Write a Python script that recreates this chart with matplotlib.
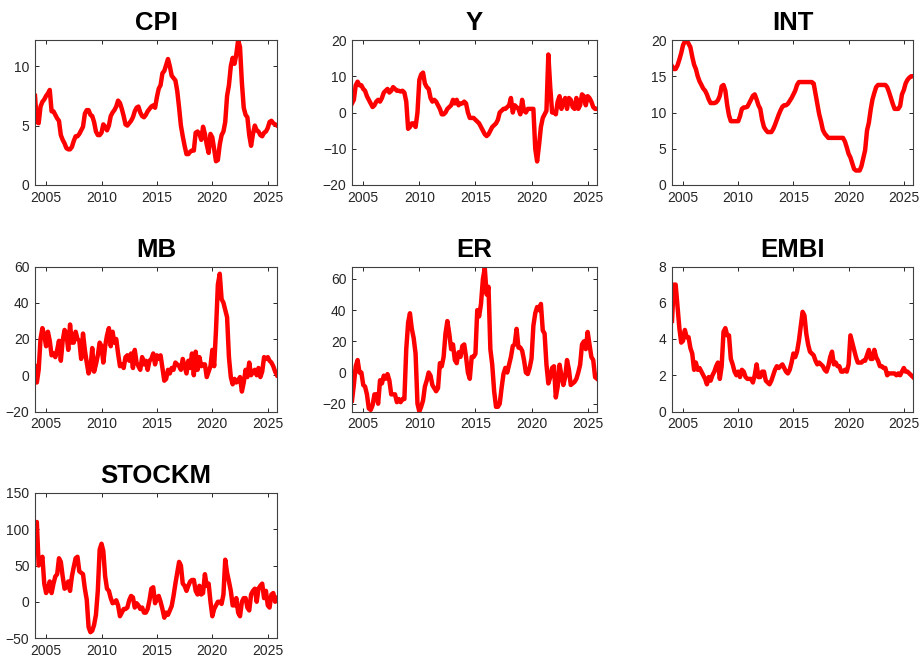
""" grid of macro series, one red line per panel """
import matplotlib
matplotlib.use("Agg")
import matplotlib.pyplot as plt
import matplotlib.dates as mdates
import pandas as pd

# bi-monthly observations, Jan 2004 .. Nov 2025 (one row per year)
dates = pd.date_range("2004-01-01", "2025-11-01", freq="2MS")

cpi = [7.5, 5.3, 5.2, 6.6, 7.0, 7.2,
       7.5, 7.7, 8.0, 6.2, 6.2, 5.9,
       5.6, 5.4, 4.2, 3.8, 3.5, 3.1,
       3.0, 3.0, 3.2, 3.7, 4.1, 4.1,
       4.3, 4.6, 4.9, 6.0, 6.3, 6.3,
       5.9, 5.8, 5.3, 4.5, 4.2, 4.2,
       4.4, 5.1, 4.9, 4.6, 5.0, 5.8,
       6.1, 6.3, 6.6, 7.1, 6.9, 6.4,
       5.8, 5.1, 5.0, 5.2, 5.4, 5.7,
       6.2, 6.5, 6.6, 6.1, 5.8, 5.7,
       5.9, 6.2, 6.4, 6.6, 6.7, 6.5,
       7.4, 8.1, 8.4, 9.4, 9.6, 10.1,
       10.6, 10.0, 9.2, 9.0, 8.8, 7.9,
       6.5, 5.0, 4.1, 3.3, 2.6, 2.6,
       2.8, 2.9, 2.9, 4.4, 4.5, 4.3,
       3.8, 4.9, 4.3, 3.4, 2.7, 4.3,
       4.0, 3.0, 2.0, 2.1, 3.4, 4.2,
       4.5, 5.3, 7.5, 8.4, 10.0, 10.7,
       10.2, 11.0, 12.2, 11.6, 8.6, 6.5,
       5.9, 5.7, 4.2, 3.3, 4.3, 5.0,
       4.6, 4.5, 4.2, 4.1, 4.4, 4.5,
       4.8, 5.3, 5.4, 5.2, 5.1, 5.0]

y = [2.5, 3.5, 7.5, 8.5, 7.5, 7.5,
     6.5, 6.0, 4.5, 3.5, 2.5, 1.5,
     2.0, 3.0, 3.5, 3.0, 4.0, 5.5,
     6.0, 6.5, 5.5, 6.0, 7.0, 6.5,
     6.0, 6.0, 5.8, 6.0, 5.5, 3.0,
     -4.5, -4.0, -3.0, -3.0, -4.0, 0.0,
     9.0, 10.5, 11.0, 8.0, 7.0, 6.5,
     4.0, 3.0, 3.5, 3.0, 2.0, 1.0,
     -0.5, -0.5, 0.0, 1.0, 1.5, 2.0,
     3.5, 2.5, 3.5, 2.0, 2.5, 2.5,
     3.0, 2.5, 0.0, -1.5, -1.5, -1.5,
     -2.0, -2.5, -3.0, -4.0, -5.0, -6.0,
     -6.5, -6.0, -5.0, -4.0, -3.5, -3.0,
     -2.0, 0.0, 0.5, 1.0, 1.0, 1.5,
     2.0, 4.0, 0.0, 2.0, 1.5, 1.0,
     -0.5, 3.5, 0.5, 0.0, 1.0, 1.0,
     1.0, 1.0, -10.0, -13.5, -9.0, -4.0,
     -1.5, -0.5, 0.5, 16.0, 7.0, 0.0,
     0.0, -0.5, 3.0, 4.5, 1.0, 3.0,
     4.0, 1.0, 4.0, 3.5, 1.5, 1.0,
     4.0, 1.0, 2.0, 5.0, 4.5, 2.0,
     4.5, 4.0, 3.0, 1.5, 1.0, 1.0]

intr = [16.4, 16.0, 16.0, 16.5, 17.3, 18.2,
        19.3, 19.8, 20.0, 19.5, 19.0, 17.7,
        16.6, 16.0, 15.0, 14.3, 13.8, 13.3,
        13.0, 12.5, 11.8, 11.3, 11.3, 11.3,
        11.4, 11.7, 12.3, 13.6, 13.8, 13.0,
        11.0, 9.6, 8.8, 8.8, 8.8, 8.8,
        8.8, 9.5, 10.5, 10.7, 10.7, 10.8,
        11.3, 11.8, 12.3, 12.5, 11.8, 11.0,
        10.5, 9.0, 8.0, 7.6, 7.3, 7.3,
        7.3, 7.7, 8.3, 9.0, 9.7, 10.3,
        10.8, 11.0, 11.0, 11.2, 11.6, 12.0,
        12.5, 13.0, 13.8, 14.2, 14.2, 14.2,
        14.2, 14.2, 14.2, 14.2, 14.2, 14.0,
        12.6, 11.3, 9.8, 8.8, 7.6, 7.1,
        6.8, 6.5, 6.5, 6.5, 6.5, 6.5,
        6.5, 6.5, 6.5, 6.5, 6.0, 5.2,
        4.3, 3.8, 3.0, 2.2, 2.0, 2.0,
        2.0, 2.6, 3.7, 4.8, 7.5, 8.6,
        10.4, 11.8, 12.7, 13.5, 13.8, 13.8,
        13.8, 13.8, 13.8, 13.5, 12.8, 12.0,
        11.2, 10.5, 10.5, 10.5, 10.9, 12.5,
        13.1, 14.0, 14.5, 14.8, 15.0, 15.0]

mb = [5, -4, 3, 20, 26, 22,
      16, 24, 19, 11, 12, 10,
      14, 19, 8, 19, 25, 23,
      14, 28, 18, 18, 24, 20,
      19, 9, 23, 14, 7, 1,
      4, 15, 2, 6, 11, 18,
      16, 7, 16, 22, 26, 16,
      24, 18, 20, 12, 5, 6,
      4, 10, 11, 8, 12, 4,
      14, 7, 5, 3, 10, 6,
      8, 3, 8, 9, 12, 6,
      11, 9, 11, 4, -3, -2,
      3, 1, 4, 3, 7, 6,
      5, 3, 9, 5, 1, 8,
      4, 12, 0, 13, 3, 10,
      5, 6, 6, -1, 2, 5,
      14, 5, 25, 50, 56, 42,
      40, 36, 32, 10, -1, -5,
      -2, -4, -3, -1, -9, -4,
      3, -1, 7, 0, 2, 3,
      0, 4, -1, 2, 10, 9,
      10, 8, 7, 5, 2, 0]

er = [-18, -8, 4, 8, 0, 0,
      -8, -9, -14, -23, -24, -21,
      -14, -14, -20, -5, -7, -2,
      -4, -1, -5, -14, -14, -14,
      -19, -17, -19, -17, -17, 15,
      32, 38, 28, 22, 12, -20,
      -25, -22, -18, -9, -5, 0,
      -2, -8, -10, -12, -10, 6,
      4, 10, 25, 33, 25, 15,
      18, 8, 6, 13, 10, 17,
      18, 10, 0, -4, 10, 10,
      12, 40, 36, 44, 60, 67,
      50, 55, 15, 5, -12, -22,
      -22, -20, -10, -1, 3, 0,
      5, 10, 17, 18, 28, 16,
      16, 14, 8, 0, -1, 3,
      9, 30, 38, 42, 40, 44,
      27, 25, 5, -7, -3, 3,
      4, -16, -9, 5, -2, -8,
      -3, 8, 2, -8, -7, -6,
      -4, 0, 5, 18, 20, 15,
      26, 18, 10, 8, -3, -4]

embi = [5.0, 7.0, 7.0, 5.8, 4.6, 3.8,
        3.9, 4.5, 4.1, 4.1, 3.5, 3.2,
        2.3, 2.7, 2.3, 2.4, 2.2, 2.0,
        1.8, 1.5, 1.9, 1.7, 2.0, 2.2,
        2.5, 2.7, 1.8, 2.5, 4.4, 4.6,
        4.2, 4.2, 2.9, 2.6, 2.2, 2.0,
        2.2, 1.9, 2.3, 2.2, 1.9, 1.8,
        1.8, 1.8, 1.6, 2.0, 2.6, 1.9,
        1.9, 2.2, 2.2, 1.7, 1.6, 1.5,
        1.7, 2.0, 2.3, 2.5, 2.4, 2.5,
        2.6, 2.4, 2.2, 2.1, 2.3, 2.7,
        3.2, 3.0, 3.3, 3.9, 4.7, 5.5,
        5.3, 4.3, 3.7, 3.3, 3.2, 3.1,
        2.8, 2.6, 2.7, 2.6, 2.5, 2.3,
        2.2, 2.5, 3.0, 3.3, 2.6, 2.7,
        2.5, 2.5, 2.2, 2.2, 2.3, 2.2,
        2.6, 4.2, 3.8, 3.4, 3.0, 2.7,
        2.7, 2.7, 2.8, 2.8, 3.1, 3.4,
        2.9, 2.9, 3.4, 3.0, 2.8, 2.5,
        2.5, 2.4, 2.4, 2.0, 2.1, 2.1,
        2.1, 2.1, 2.0, 2.1, 2.0, 2.2,
        2.4, 2.2, 2.2, 2.1, 2.0, 1.9]

stockm = [105, 110, 50, 55, 62, 25,
          12, 18, 28, 12, 25, 35,
          38, 60, 55, 35, 18, 20,
          28, 15, 35, 48, 60, 62,
          42, 40, 38, 18, 3, -35,
          -42, -40, -32, -18, 15, 72,
          80, 70, 35, 18, 15, 5,
          -2, -1, 2, -5, -20, -15,
          -10, -10, -8, 2, 8, 6,
          -8, -2, -5, -10, -8, -15,
          -15, -10, 2, 18, 20, -2,
          5, 8, 0, -10, -22, -15,
          -18, -12, -6, 8, 25, 40,
          55, 50, 25, 22, 15, 22,
          28, 30, 30, 15, 10, 22,
          10, 12, 38, 22, 25, 0,
          -20, -10, -5, 0, 0, -3,
          10, 58, 40, 28, 15, -5,
          -5, 5, -15, -20, 0, 5,
          5, -8, -12, 10, 15, 18,
          0, 18, 22, 25, 5, 15,
          -5, -8, 10, 12, 0, 5]

titles = ["CPI", "Y", "INT", "MB", "ER", "EMBI", "STOCKM"]
series = [cpi, y, intr, mb, er, embi, stockm]
ylims = [(0, 12.2), (-20, 20), (0, 20), (-20, 60), (-25, 68), (0, 8), (-50, 150)]
yticks = [[0, 5, 10], [-20, -10, 0, 10, 20], [0, 5, 10, 15, 20],
          [-20, 0, 20, 40, 60], [-20, 0, 20, 40, 60], [0, 2, 4, 6, 8],
          [-50, 0, 50, 100, 150]]

plt.rcParams['font.family'] = ['Liberation Sans', 'DejaVu Sans']

W, H = 922, 664
lefts = [35, 352, 672]
widths = [242, 245, 241]
tops = [40, 266.5, 493]
ax_h = 145

fig = plt.figure(figsize=(W / 100, H / 100), dpi=100)
for i, (name, vals) in enumerate(zip(titles, series)):
    r, c = divmod(i, 3)
    ax = fig.add_axes([lefts[c] / W, (H - tops[r] - ax_h) / H, widths[c] / W, ax_h / H])
    ax.plot(dates, vals, color='#ff0000', lw=3.2)
    ax.set_xlim(dates[0], dates[-1])
    ax.set_ylim(*ylims[i])
    ax.set_yticks(yticks[i])
    ax.xaxis.set_major_locator(mdates.YearLocator(5))
    ax.xaxis.set_major_formatter(mdates.DateFormatter('%Y'))
    ax.tick_params(direction='in', top=True, right=True, length=3, width=0.7,
                   colors='#262626', labelsize=10, pad=4)
    for sp in ax.spines.values():
        sp.set_color('#404040')
        sp.set_linewidth(0.8)
    ax.set_title(name, fontsize=18.5, fontweight='bold', pad=7)

fig.savefig('out.png', dpi=100)
